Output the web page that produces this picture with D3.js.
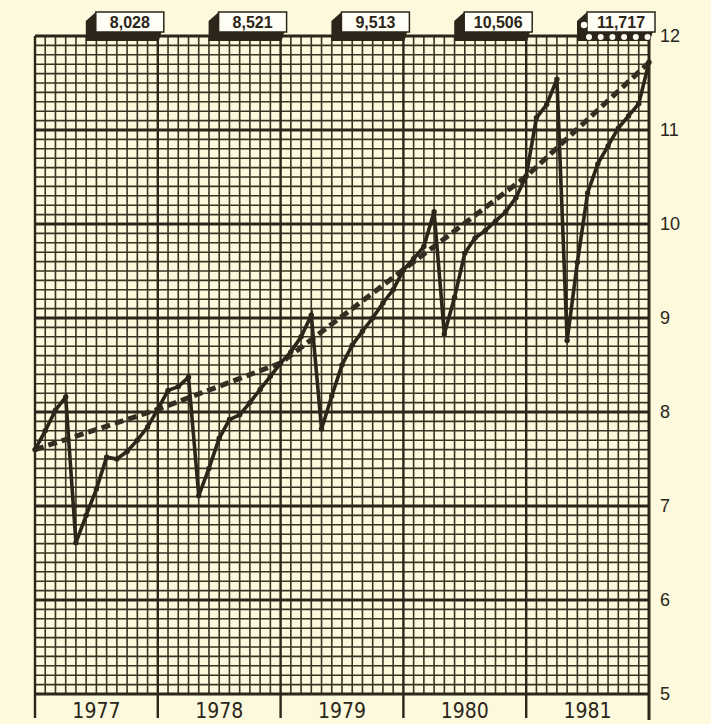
<!DOCTYPE html>
<html>
<head>
<meta charset="utf-8">
<script src="https://cdn.jsdelivr.net/npm/d3@7"></script>
<style>
  body { margin: 0; background: #fcf9dc; }
  svg { display: block; }
</style>
</head>
<body>
<div id="chart"></div>
<script>
// monthly values (end of each month, Jan 1977 .. Jan 1982), in units of the right axis
const monthValues = [
  7.60, 7.80, 8.02, 8.16, 6.61, 6.90, 7.18, 7.52, 7.50, 7.58, 7.70, 7.84, 8.03,
  8.23, 8.27, 8.37, 7.11, 7.40, 7.72, 7.92, 7.97, 8.10, 8.24, 8.38, 8.52,
  8.64, 8.80, 9.03, 7.82, 8.17, 8.50, 8.71, 8.86, 9.00, 9.16, 9.30, 9.51,
  9.63, 9.76, 10.13, 8.83, 9.22, 9.69, 9.85, 9.93, 10.03, 10.13, 10.28, 10.51,
  11.13, 11.27, 11.54, 8.76, 9.59, 10.33, 10.64, 10.83, 11.02, 11.15, 11.28, 11.72
];
// dashed trend through the year-end values
const trendValues = [7.60, 8.028, 8.521, 9.513, 10.506, 11.717];
const yearEndLabels = ["8,028", "8,521", "9,513", "10,506", "11,717"];
const years = ["1977", "1978", "1979", "1980", "1981"];
const valueTicks = [5, 6, 7, 8, 9, 10, 11, 12];

const width = 711, height = 724;
const ink = "#2b251a";

let svg = d3.select("#chart").append("svg")
    .attr("width", width)
    .attr("height", height);

svg.append("rect")
    .attr("width", width).attr("height", height)
    .attr("fill", "#fcf9dc");

let x = d3.scaleLinear().domain([0, 60]).range([35, 649]);
let y = d3.scaleLinear().domain([5, 12]).range([694, 36]);

// graph paper grid: thin lines first, then the heavy ones
let grid = svg.append("g").attr("stroke", "#3a3223");

grid.selectAll(".vminor")
  .data(d3.range(0, 61).filter(d => d % 12 !== 0))
  .enter().append("line")
    .attr("x1", d => x(d)).attr("x2", d => x(d))
    .attr("y1", y(12)).attr("y2", y(5))
    .attr("stroke-width", 1.6);

grid.selectAll(".hminor")
  .data(d3.range(50, 121).filter(d => d % 10 !== 0))
  .enter().append("line")
    .attr("x1", x(0)).attr("x2", x(60))
    .attr("y1", d => y(d / 10)).attr("y2", d => y(d / 10))
    .attr("stroke-width", 1.6);

grid.selectAll(".hmajor")
  .data(valueTicks)
  .enter().append("line")
    .attr("x1", x(0)).attr("x2", x(60))
    .attr("y1", d => y(d)).attr("y2", d => y(d))
    .attr("stroke", ink)
    .attr("stroke-width", 2.8);

grid.selectAll(".vmajor")
  .data(d3.range(0, 61, 12))
  .enter().append("line")
    .attr("x1", d => x(d)).attr("x2", d => x(d))
    .attr("y1", y(12)).attr("y2", d => d === 60 ? y(5) + 26 : y(5) + 24)
    .attr("stroke", ink)
    .attr("stroke-width", d => d === 60 ? 3 : 2.4);

// year labels
svg.append("g")
  .selectAll("text")
  .data(years)
  .enter().append("text")
    .attr("x", (d, i) => x(i * 12 + 6))
    .attr("y", 718)
    .attr("text-anchor", "middle")
    .attr("fill", ink)
    .style("font-family", "'Liberation Sans Narrow', 'DejaVu Sans Condensed', 'Liberation Sans', sans-serif")
    .style("font-size", "21px")
    .text(d => d);

// right value axis labels
svg.append("g")
  .selectAll("text")
  .data(valueTicks)
  .enter().append("text")
    .attr("x", 660)
    .attr("y", d => y(d))
    .attr("dy", "0.35em")
    .attr("fill", ink)
    .style("font-family", "'Liberation Sans', Arial, sans-serif")
    .style("font-size", "18px")
    .text(d => d);

// dashed trend line
svg.append("path")
    .datum(trendValues)
    .attr("fill", "none")
    .attr("stroke", "#332d22")
    .attr("stroke-width", 5)
    .attr("stroke-dasharray", "9,5")
    .attr("d", d3.line()
        .x((d, i) => x(i * 12))
        .y(d => y(d)));

// monthly line
svg.append("path")
    .datum(monthValues)
    .attr("fill", "none")
    .attr("stroke", ink)
    .attr("stroke-width", 3.6)
    .attr("stroke-linejoin", "miter")
    .attr("d", d3.line()
        .x((d, i) => x(i))
        .y(d => y(d)));

svg.append("g")
  .selectAll("circle")
  .data(monthValues)
  .enter().append("circle")
    .attr("cx", (d, i) => x(i))
    .attr("cy", d => y(d))
    .attr("r", 2.7)
    .attr("fill", ink);

// year-end tabs on top
let tabs = svg.append("g")
  .selectAll("g")
  .data(yearEndLabels)
  .enter().append("g")
    .attr("transform", (d, i) => "translate(" + x((i + 1) * 12) + ",0)");

tabs.append("path")
    .attr("fill", ink)
    .attr("d", "M-72,21 L-63,13 L4,13 L4,31 L1,41 L-72,41 Z");

tabs.append("rect")
    .attr("x", -62).attr("y", 12)
    .attr("width", 68).attr("height", 20)
    .attr("fill", "#fffef4")
    .attr("stroke", ink)
    .attr("stroke-width", 1.5);

tabs.append("text")
    .attr("x", -28)
    .attr("y", 28)
    .attr("text-anchor", "middle")
    .attr("fill", ink)
    .style("font-family", "'Liberation Sans', Arial, sans-serif")
    .style("font-weight", "bold")
    .style("font-size", "16px")
    .text(d => d);

// the last tab is perforated
let lastTab = tabs.filter((d, i) => i === yearEndLabels.length - 1);
lastTab.selectAll("circle")
  .data(d3.range(6))
  .enter().append("circle")
    .attr("cx", d => -60 + d * 11.7)
    .attr("cy", 37)
    .attr("r", 3)
    .attr("fill", "#fffef4");
lastTab.append("circle")
    .attr("cx", -65).attr("cy", 25).attr("r", 3.2)
    .attr("fill", "#fffef4");
</script>
</body>
</html>
